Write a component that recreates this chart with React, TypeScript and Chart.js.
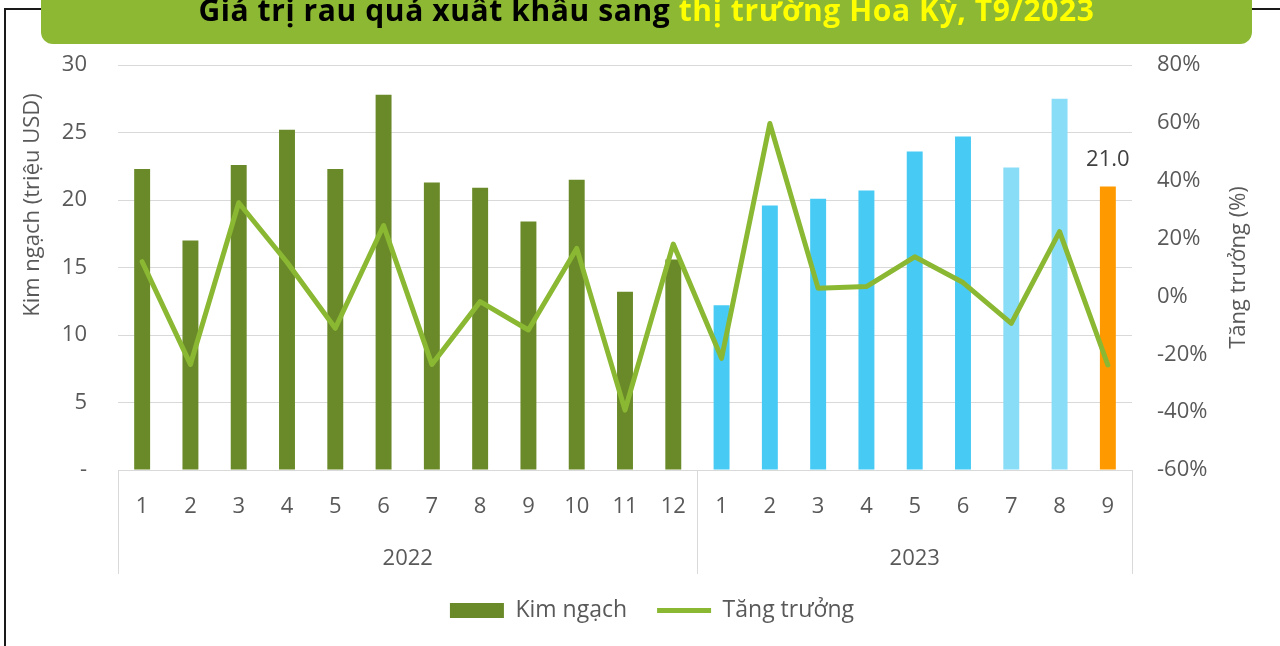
import React, { useEffect, useRef } from "react";
import { Chart, registerables } from "chart.js";

Chart.register(...registerables);

// ---- Data ----
const months = ["1", "2", "3", "4", "5", "6", "7", "8", "9", "10", "11", "12", "1", "2", "3", "4", "5", "6", "7", "8", "9"];
const years = ["2022", "2023"];
const monthsPerYear = [12, 9];
const exportValue = [22.3, 17.0, 22.6, 25.2, 22.3, 27.8, 21.3, 20.9, 18.4, 21.5, 13.2, 15.6, 12.2, 19.6, 20.1, 20.7, 23.6, 24.7, 22.4, 27.5, 21.0];
const growthPct = [12.0, -23.5, 32.4, 11.8, -11.0, 24.5, -23.5, -1.8, -11.6, 16.6, -39.3, 18.1, -21.4, 59.8, 2.8, 3.4, 13.7, 4.8, -9.3, 22.4, -23.7];
const barColors = [
  "#6a8a29", "#6a8a29", "#6a8a29", "#6a8a29", "#6a8a29", "#6a8a29",
  "#6a8a29", "#6a8a29", "#6a8a29", "#6a8a29", "#6a8a29", "#6a8a29",
  "#47cbf5", "#47cbf5", "#47cbf5", "#47cbf5", "#47cbf5", "#47cbf5",
  "#89ddf7", "#89ddf7", "#ff9900",
];
const seriesNames = ["Kim ngạch", "Tăng trưởng"];
const leftAxisTitle = "Kim ngạch (triệu USD)";
const rightAxisTitle = "Tăng trưởng (%)";
const titleBlack = "Giá trị rau quả xuất khẩu sang ";
const titleYellow = "thị trường Hoa Kỳ, T9/2023";

const FONT = "'Open Sans', 'DejaVu Sans', sans-serif";
const TEXT = "#595959";
const GRID = "#d9d9d9";

const W = 1280;
const H = 646;
const PAD_LEFT = 24;
const PLOT_LEFT = 118;
const PLOT_RIGHT = 1132;
const PLOT_TOP = 65;
const PLOT_BOTTOM = 470;
const PAD_BOTTOM = 14;

const extrasPlugin = {
  id: "extras",
  afterDatasetsDraw(chart: any) {
    const ctx = chart.ctx;
    // data label on last bar
    const meta = chart.getDatasetMeta(0);
    const last = meta.data[meta.data.length - 1];
    if (last) {
      ctx.save();
      ctx.font = `22px ${FONT}`;
      ctx.fillStyle = "#404040";
      ctx.textAlign = "center";
      ctx.textBaseline = "middle";
      ctx.fillText(exportValue[exportValue.length - 1].toFixed(1), last.x, last.y - 27);
      ctx.restore();
    }
  },
  afterDraw(chart: any) {
    const ctx = chart.ctx;
    const area = chart.chartArea;
    const x = chart.scales.x;
    ctx.save();
    // group separators
    const bounds: number[] = [area.left];
    let idx = 0;
    for (let i = 0; i < monthsPerYear.length; i++) {
      idx += monthsPerYear[i];
      if (idx < months.length) {
        bounds.push((x.getPixelForValue(idx - 1) + x.getPixelForValue(idx)) / 2);
      }
    }
    bounds.push(area.right);
    ctx.strokeStyle = GRID;
    ctx.lineWidth = 1;
    for (const b of bounds) {
      const bx = Math.round(b) + 0.5;
      ctx.beginPath();
      ctx.moveTo(bx, area.bottom);
      ctx.lineTo(bx, area.bottom + 104);
      ctx.stroke();
    }
    // year labels
    ctx.font = `22px ${FONT}`;
    ctx.fillStyle = TEXT;
    ctx.textAlign = "center";
    ctx.textBaseline = "middle";
    for (let i = 0; i < years.length; i++) {
      ctx.fillText(years[i], (bounds[i] + bounds[i + 1]) / 2, area.bottom + 89);
    }
    // axis titles (both read bottom-to-top)
    ctx.font = `22px ${FONT}`;
    ctx.save();
    ctx.translate(33, 205);
    ctx.rotate(-Math.PI / 2);
    ctx.fillText(leftAxisTitle, 0, 0);
    ctx.restore();
    ctx.save();
    ctx.translate(1239, (area.top + area.bottom) / 2);
    ctx.rotate(-Math.PI / 2);
    ctx.fillText(rightAxisTitle, 0, 0);
    ctx.restore();
    ctx.restore();
  },
};

export default function App() {
  const canvasRef = useRef<HTMLCanvasElement | null>(null);

  useEffect(() => {
    const canvas = canvasRef.current;
    if (!canvas) return;
    const chart = new Chart(canvas, {
      type: "bar",
      data: {
        labels: months,
        datasets: [
          {
            type: "bar",
            label: seriesNames[0],
            data: exportValue,
            backgroundColor: barColors,
            borderWidth: 0,
            categoryPercentage: 1,
            barPercentage: 0.33,
            pointStyle: "rect",
            yAxisID: "y",
            order: 1,
          } as any,
          {
            type: "line",
            label: seriesNames[1],
            data: growthPct,
            borderColor: "#8bb832",
            backgroundColor: "#8bb832",
            borderWidth: 5,
            borderCapStyle: "round",
            borderJoinStyle: "round",
            pointRadius: 0,
            pointHoverRadius: 0,
            pointStyle: "line",
            tension: 0,
            yAxisID: "y1",
            order: 0,
          } as any,
        ],
      },
      options: {
        responsive: false,
        animation: false,
        devicePixelRatio: 1,
        layout: { padding: { top: PLOT_TOP, left: PAD_LEFT, right: 0, bottom: PAD_BOTTOM } },
        plugins: {
          legend: {
            position: "bottom",
            labels: {
              usePointStyle: true,
              pointStyleWidth: 54,
              boxHeight: 15,
              padding: 30,
              color: TEXT,
              font: { family: FONT, size: 23 },
              sort: (a: any, b: any) => a.datasetIndex - b.datasetIndex,
            },
          },
          tooltip: { enabled: false },
          title: { display: false },
        },
        scales: {
          x: {
            type: "category",
            grid: { display: false, drawTicks: false },
            border: { display: true, color: GRID, width: 1 },
            ticks: {
              color: TEXT,
              font: { family: FONT, size: 22 },
              padding: 24,
              maxRotation: 0,
              autoSkip: false,
            },
            afterFit(scale: any) {
              const lh = scale.chart.legend ? scale.chart.legend.height : 0;
              scale.height = H - PLOT_BOTTOM - lh - PAD_BOTTOM;
            },
          },
          y: {
            position: "left",
            min: 0,
            max: 30,
            grid: { color: GRID, lineWidth: 1, drawTicks: false },
            border: { display: false },
            ticks: {
              stepSize: 5,
              color: TEXT,
              padding: 31,
              font: { family: FONT, size: 22 },
              callback: (v: any) => (Number(v) === 0 ? "-" : String(v)),
            },
            afterFit(scale: any) {
              scale.width = PLOT_LEFT - PAD_LEFT;
            },
          },
          y1: {
            position: "right",
            min: -60,
            max: 80,
            grid: { display: false, drawOnChartArea: false, drawTicks: false },
            border: { display: false },
            ticks: {
              stepSize: 20,
              color: TEXT,
              padding: 25,
              font: { family: FONT, size: 22 },
              callback: (v: any) => `${v}%`,
            },
            afterFit(scale: any) {
              scale.width = W - PLOT_RIGHT;
            },
          },
        },
      },
      plugins: [extrasPlugin],
    });
    return () => chart.destroy();
  }, []);

  return (
    <div
      style={{
        position: "fixed",
        left: 0,
        top: 0,
        width: W,
        height: H,
        overflow: "hidden",
        background: "#ffffff",
      }}
    >
      <div
        style={{
          position: "absolute",
          left: 4,
          top: 8,
          width: W + 100,
          height: H + 100,
          border: "2px solid #1a1a1a",
          boxSizing: "border-box",
        }}
      />
      <canvas
        ref={canvasRef}
        width={W}
        height={H}
        style={{ position: "absolute", left: 0, top: 0, width: W, height: H }}
      />
      <div
        style={{
          position: "absolute",
          left: 41,
          top: -20,
          width: 1211,
          height: 64,
          background: "#8cb833",
          borderRadius: "0 0 12px 12px",
        }}
      >
        <div
          style={{
            position: "absolute",
            left: 0,
            right: 0,
            top: 15,
            textAlign: "center",
            fontFamily: FONT,
            fontWeight: 700,
            fontSize: 30,
            lineHeight: "30px",
            letterSpacing: "0.6px",
            whiteSpace: "nowrap",
          }}
        >
          <span style={{ color: "#000000" }}>{titleBlack}</span>
          <span style={{ color: "#ffff00" }}>{titleYellow}</span>
        </div>
      </div>
    </div>
  );
}
